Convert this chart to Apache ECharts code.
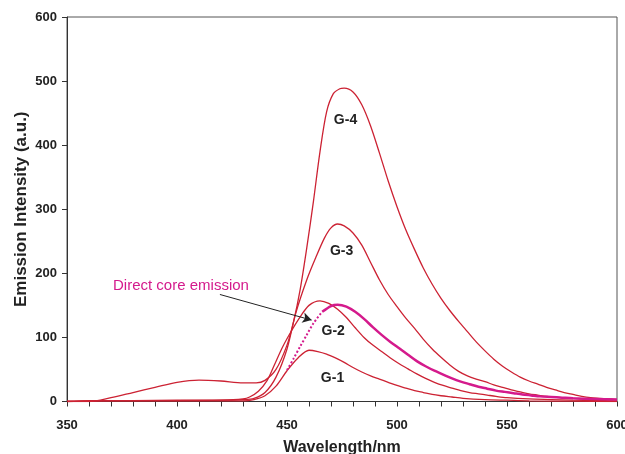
<!DOCTYPE html>
<html><head><meta charset="utf-8">
<script src="https://cdn.jsdelivr.net/npm/echarts@6/dist/echarts.min.js"></script>
<style>html,body{margin:0;padding:0;background:#fff}#c{width:625px;height:454px}</style>
</head><body><div id="c"></div>
<script>
// Wavelength (nm) / intensity pairs
const g4 = [[350,0],[360,0],[370,6],[380,14],[390,22],[400,30],[410,33.5],[420,32],[430,29],[436,29],[440,33],[445,50],[450,88],[453,125],[456,175],[459,240],[462,312],[465,390],[468,452],[471,480],[474,488],[476,489],[480,483],[484,463],[488,430],[492,388],[496,344],[500,304],[504,268],[508,237],[512,208],[516,183],[520,161],[524,142],[528,125],[532,109],[536,93],[540,79],[544,66],[548,55],[552,46],[556,38],[560,32],[564,27],[568,22],[572,18],[576,14],[580,11],[584,8],[588,6],[592,5],[596,4],[600,3]];
const g3 = [[350,0],[360,1],[380,1.5],[400,2],[420,2],[430,3],[435,5],[440,14],[445,38],[450,82],[454,138],[459,190],[463,224],[467,255],[470,271],[473,277],[476,274],[480,263],[484,244],[488,217],[492,190],[496,167],[500,148],[504,130],[508,114],[512,97],[516,82],[520,69],[524,57],[528,47],[532,40],[536,35],[540,31],[544,26],[548,22],[552,18],[556,15],[560,12],[564,10],[568,8],[576,6],[584,4],[592,3.5],[600,3]];
const g2 = [[350,0],[360,1],[380,1.5],[400,1.5],[420,2],[430,4],[433,7],[437,16],[441,33],[444,55],[448,85],[452,110],[456,132],[460,150],[465,157],[469,153],[473,144],[477,131],[481,115],[485,100],[489,88],[493,78],[497,68],[501,59],[505,51],[509,43],[513,36],[517,30],[521,25],[525,21],[529,17],[533,14],[537,12],[541,10],[545,8],[550,6],[560,4],[570,3],[580,2],[590,1.5],[600,1]];
const g1 = [[350,0],[360,1],[380,1],[400,1],[420,1],[430,1],[435,3],[440,9],[445,24],[450,48],[455,68],[460,80],[464,78],[468,74],[472,68],[476,61],[480,53],[484,46],[488,40],[492,35],[496,30],[500,25],[504,21],[508,17],[512,14],[516,11],[520,9],[525,7],[530,5],[540,3],[550,2],[560,1],[580,0.5],[600,0]];
const core = [[450,49],[453,67],[456,86],[459,104],[462,122],[466,140],[470,149],[473,151],[477,148],[481,140],[485,129],[489,116],[493,104],[497,93],[501,83],[505,73],[509,63],[513,55],[517,48],[521,42],[525,36],[529,31],[533,27],[537,23],[541,20],[545,17],[549,15],[553,13],[557,11],[561,9.5],[565,8],[570,7],[575,6],[580,5],[590,4],[600,3]];
const coreDottedEnd = 5; // index where the dotted part of the core curve ends
const xTicks = [350,400,450,500,550,600];
const yTicks = [0,100,200,300,400,500,600];
const curveLabels = [['G-4',476.6,439],['G-3',474.8,234],['G-2',471,110],['G-1',470.7,36.5]];
const noteText = 'Direct core emission';
const notePos = [401.8,180];
const arrowFrom = [419.5,167];
const arrowTo = [461.2,127];

const red = '#cc2233', mag = '#d41a8c';
const chart = echarts.init(document.getElementById('c'));
const font = 'Liberation Sans, Arial, sans-serif';
function line(name, data, color, width, type){
  return {name, type:'line', data, showSymbol:false, symbol:'none', smooth:0.3, animation:false,
    lineStyle:{color, width, type: type||'solid'}, z:3};
}
chart.setOption({
  animation:false,
  grid:{left:67, right:8, top:17, bottom:52.5, containLabel:false, outerBoundsMode:'none',
    show:true, borderColor:'#555', borderWidth:1},
  xAxis:{type:'value', min:xTicks[0], max:xTicks[xTicks.length-1], interval:10,
    name:'Wavelength/nm', nameLocation:'middle', nameGap:38, nameMoveOverlap:false,
    nameTextStyle:{fontFamily:font, fontWeight:'bold', fontSize:16, color:'#222'},
    axisLine:{lineStyle:{color:'#333', width:1}},
    axisTick:{show:true, length:5, lineStyle:{color:'#333'}},
    splitLine:{show:false},
    axisLabel:{fontFamily:font, fontWeight:'bold', fontSize:13, color:'#222', margin:17,
      formatter:v=> xTicks.includes(v)? String(v):''}},
  yAxis:{type:'value', min:yTicks[0], max:yTicks[yTicks.length-1], interval:100,
    name:'Emission Intensity (a.u.)', nameLocation:'middle', nameGap:37, nameMoveOverlap:false,
    nameTextStyle:{fontFamily:font, fontWeight:'bold', fontSize:17, color:'#222'},
    axisLine:{show:true, lineStyle:{color:'#333', width:1}},
    axisTick:{show:true, length:5, lineStyle:{color:'#333'}},
    splitLine:{show:false},
    axisLabel:{fontFamily:font, fontWeight:'bold', fontSize:13, color:'#222', margin:10}},
  series:[
    line('G-1', g1, red, 1.3),
    line('G-2', g2, red, 1.3),
    line('G-3', g3, red, 1.3),
    line('G-4', g4, red, 1.3),
    line('core-dotted', core.slice(0, coreDottedEnd+1), mag, 2, 'dotted'),
    Object.assign(line('core', core.slice(coreDottedEnd), mag, 2.5), {
      markLine:{silent:true, symbol:['none','arrow'], symbolSize:[8,9], animation:false,
        lineStyle:{color:'#222', width:1, type:'solid'}, label:{show:false},
        data:[[{coord:arrowFrom},{coord:arrowTo}]]}})
  ]
});
const g = curveLabels.map(([t,x,y])=>{
  const p = chart.convertToPixel({gridIndex:0},[x,y]);
  return {type:'text', x:p[0], y:p[1], style:{text:t, fill:'#222', font:'bold 14px '+font, textAlign:'center', textVerticalAlign:'middle'}};
});
const np = chart.convertToPixel({gridIndex:0}, notePos);
g.push({type:'text', x:np[0], y:np[1], style:{text:noteText, fill:mag, font:'15px '+font, textAlign:'center', textVerticalAlign:'middle'}});
chart.setOption({graphic:g});
</script></body></html>
